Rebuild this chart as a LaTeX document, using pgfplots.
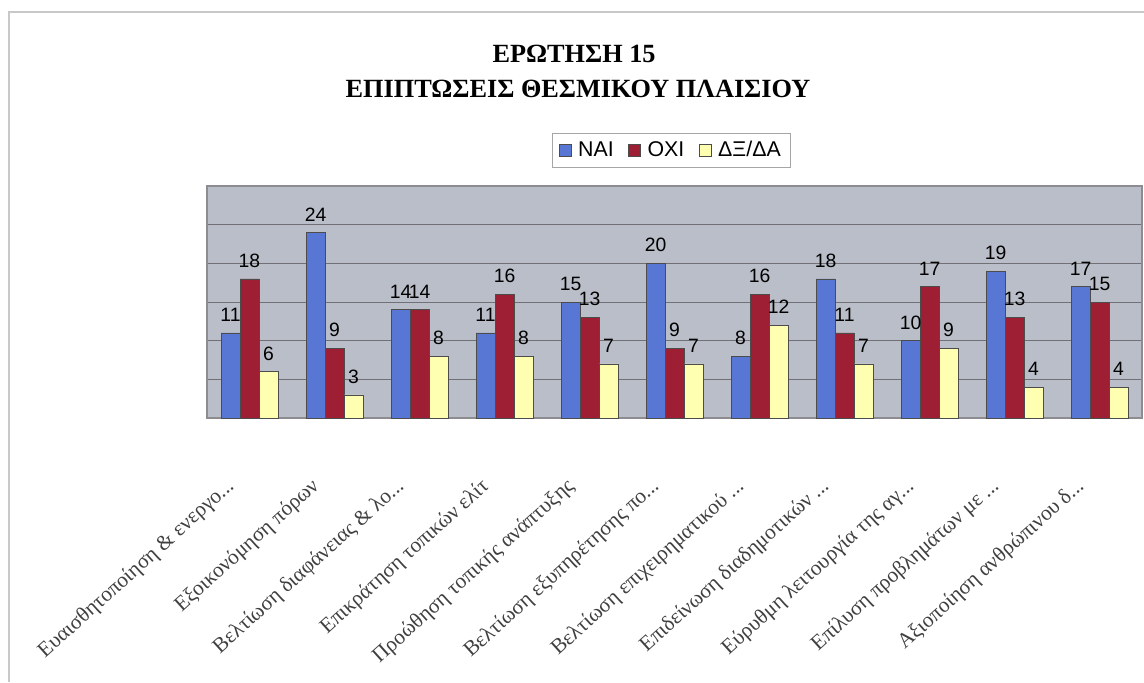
\documentclass[border=0pt]{standalone}
\usepackage{pgfplots}
\pgfplotsset{compat=1.18}
\usepackage{fontspec}
\setmainfont{Liberation Serif}
\setsansfont{Liberation Sans}

\definecolor{nai}{RGB}{88,118,212}
\definecolor{oxi}{RGB}{158,30,52}
\definecolor{dxda}{RGB}{255,255,178}
\definecolor{plotbg}{RGB}{186,190,200}
\definecolor{gridc}{RGB}{112,112,118}
\definecolor{framec}{RGB}{200,200,200}
\newcommand{\el}{.\kern0pt.\kern0pt.}

\begin{document}
\begin{tikzpicture}[x=0.75pt,y=0.75pt]
\useasboundingbox (0,0) rectangle (1144,682);
% outer frame (top and left only visible)
\draw[framec,line width=1.5pt] (9,0) -- (9,670) -- (1144,670);

% title
\node[anchor=base,font=\bfseries\fontsize{19.7}{24}\selectfont] at (574,619) {ΕΡΩΤΗΣΗ 15};
\node[anchor=base,font=\bfseries\fontsize{19.7}{24}\selectfont] at (578,584) {ΕΠΙΠΤΩΣΕΙΣ ΘΕΣΜΙΚΟΥ ΠΛΑΙΣΙΟΥ};

\begin{axis}[
    at={(155.25pt,198pt)}, anchor=south west,
    scale only axis,
    width=701.25pt, height=174pt,
    ybar=0pt, bar width=14.25pt,
    xmin=-0.5, xmax=10.5,
    ymin=0, ymax=30,
    ytick={0,5,...,30}, yticklabels={},
    major tick length=0pt,
    ymajorgrids,
    grid style={gridc, line width=0.6pt},
    axis background/.style={fill=plotbg},
    axis line style={gridc!80, line width=0.8pt},
    xtick={0,1,2,3,4,5,6,7,8,9,10},
    xticklabels={
        {Ευαισθητοποίηση \& ενεργο\el},
        {Εξοικονόμηση πόρων},
        {Βελτίωση διαφάνειας \& λο\el},
        {Επικράτηση τοπικών ελίτ},
        {Προώθηση τοπικής ανάπτυξης},
        {Βελτίωση εξυπηρέτησης πο\el},
        {Βελτίωση επιχειρηματικού \el},
        {Επιδείνωση διαδημοτικών \el},
        {Εύρυθμη λειτουργία της αγ\el},
        {Επίλυση προβλημάτων με \el},
        {Αξιοποίηση ανθρώπινου δ\el}},
    xticklabel style={xshift=-11pt, yshift=-47pt, rotate=42, anchor=east,
        font=\fontsize{16}{18}\selectfont, text=black!75},
    nodes near coords,
    every node near coord/.append style={font=\sffamily\fontsize{14.5}{16}\selectfont,
        /pgf/number format/assume math mode=true, yshift=5pt},
    legend columns=-1,
    legend style={at={(0.369,1.228)}, anchor=north west, draw=gray!70,
        font=\sffamily\fontsize{16}{19}\selectfont, inner xsep=5pt, inner ysep=4pt,
        /tikz/every even column/.append style={column sep=9pt},
        /tikz/every odd column/.append style={column sep=3pt}},
    legend image code/.code={\draw[#1] (0pt,-4.5pt) rectangle (9pt,4.5pt);},
]
\addplot[fill=nai, draw=black!70] coordinates {(0,11) (1,24) (2,14) (3,11) (4,15) (5,20) (6,8) (7,18) (8,10) (9,19) (10,17)};
\addplot[fill=oxi, draw=black!70] coordinates {(0,18) (1,9) (2,14) (3,16) (4,13) (5,9) (6,16) (7,11) (8,17) (9,13) (10,15)};
\addplot[fill=dxda, draw=black!70] coordinates {(0,6) (1,3) (2,8) (3,8) (4,7) (5,7) (6,12) (7,7) (8,9) (9,4) (10,4)};
\legend{ΝΑΙ, ΟΧΙ, ΔΞ/ΔΑ}
\end{axis}
\end{tikzpicture}
\end{document}
